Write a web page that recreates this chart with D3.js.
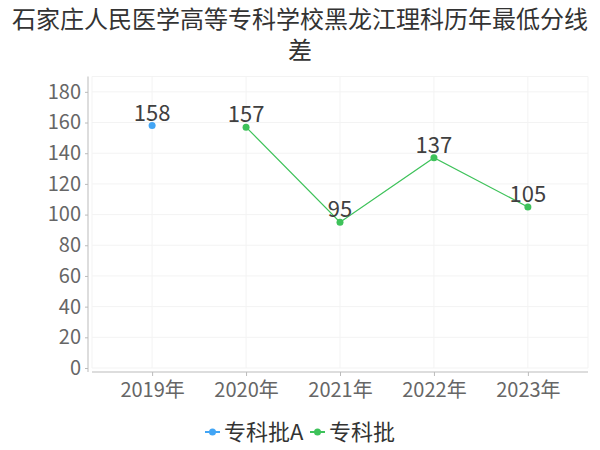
<!DOCTYPE html>
<html><head><meta charset="utf-8">
<script src="https://cdn.jsdelivr.net/npm/d3@7"></script>
<style>body{margin:0;background:#fff;} svg{display:block;font-family:"Noto Sans CJK SC","Noto Sans",sans-serif;}</style>
</head><body><svg id="c" width="600" height="450"></svg>
<script>
const titleLines = ["石家庄人民医学高等专科学校黑龙江理科历年最低分线", "差"];
const categories = ["2019年", "2020年", "2021年", "2022年", "2023年"];
const seriesNames = ["专科批A", "专科批"];
const seriesA = [158, null, null, null, null];
const seriesB = [null, 157, 95, 137, 105];
const yTicks = [0, 20, 40, 60, 80, 100, 120, 140, 160, 180];
const colors = ["#42a5f5", "#3ec25a"];

const FONT = "'Noto Sans CJK SC','Noto Sans',sans-serif";
const svg = d3.select("#c");
const L = 92, R = 588, T = 76.5, B = 368;
const x = d3.scalePoint().domain(categories).range([L, R]).padding(0.64);
const y = d3.scaleLinear().domain([0, 190]).range([B, T]);

svg.append("g").selectAll("text").data(titleLines).join("text")
  .attr("x", 300).attr("y", (d, i) => 28 + i * 31).attr("text-anchor", "middle")
  .attr("font-size", 24).attr("fill", "#333").text(d => d);

// grid
const g = svg.append("g");
g.selectAll("line.h").data(yTicks.concat([190])).join("line")
  .attr("x1", L).attr("x2", R).attr("y1", d => y(d)).attr("y2", d => y(d))
  .attr("stroke", "#f3f3f3").attr("stroke-width", 1);
g.selectAll("line.v").data(categories).join("line")
  .attr("x1", d => x(d)).attr("x2", d => x(d)).attr("y1", T).attr("y2", B)
  .attr("stroke", "#f3f3f3");
g.append("line").attr("x1", L).attr("x2", L).attr("y1", T).attr("y2", B).attr("stroke", "#f3f3f3");
g.append("line").attr("x1", R).attr("x2", R).attr("y1", T).attr("y2", B).attr("stroke", "#f3f3f3");

// y axis
const ya = svg.append("g").attr("transform", `translate(${L - 4},0)`)
  .call(d3.axisLeft(y).tickValues(yTicks).tickSize(3).tickPadding(4));
ya.select(".domain").attr("stroke", "#bbb").attr("d", `M-0,${T}V${B + 4}`);
ya.selectAll(".tick line").attr("stroke", "#bbb");
ya.selectAll("text").attr("font-size", 20).attr("fill", "#666").attr("font-family", FONT);

// x axis
const xa = svg.append("g").attr("transform", `translate(0,${B + 4})`)
  .call(d3.axisBottom(x).tickSize(4).tickPadding(7));
xa.select(".domain").attr("stroke", "#bbb").attr("d", `M${L},0H${R}`);
xa.selectAll(".tick line").attr("stroke", "#bbb");
xa.selectAll("text").attr("font-size", 20).attr("fill", "#666").attr("font-family", FONT);

// series
[seriesA, seriesB].forEach((s, si) => {
  const pts = categories.map((c, i) => ({c, v: s[i]})).filter(d => d.v != null);
  const line = d3.line().x(d => x(d.c)).y(d => y(d.v));
  svg.append("path").datum(pts).attr("d", line).attr("fill", "none")
    .attr("stroke", colors[si]).attr("stroke-width", 1.2);
  svg.append("g").selectAll("circle").data(pts).join("circle")
    .attr("cx", d => x(d.c)).attr("cy", d => y(d.v)).attr("r", 3.5).attr("fill", colors[si]);
  svg.append("g").selectAll("text").data(pts).join("text")
    .attr("x", d => x(d.c)).attr("y", d => y(d.v) - 5).attr("text-anchor", "middle")
    .attr("font-size", 22).attr("fill", "#404040").text(d => d.v);
});

// legend
const lg = svg.append("g");
const legendItems = [{name: seriesNames[0], x: 205}, {name: seriesNames[1], x: 310}];
legendItems.forEach((it, i) => {
  const gg = lg.append("g").attr("transform", `translate(${it.x},432)`);
  gg.append("line").attr("x1", 0).attr("x2", 15).attr("y1", 0).attr("y2", 0).attr("stroke", colors[i]).attr("stroke-width", 2);
  gg.append("circle").attr("cx", 7.5).attr("cy", 0).attr("r", 3.5).attr("fill", colors[i]);
  gg.append("text").attr("x", 19).attr("y", 7.5).attr("font-size", 22).attr("fill", "#333").text(it.name);
});
</script></body></html>
